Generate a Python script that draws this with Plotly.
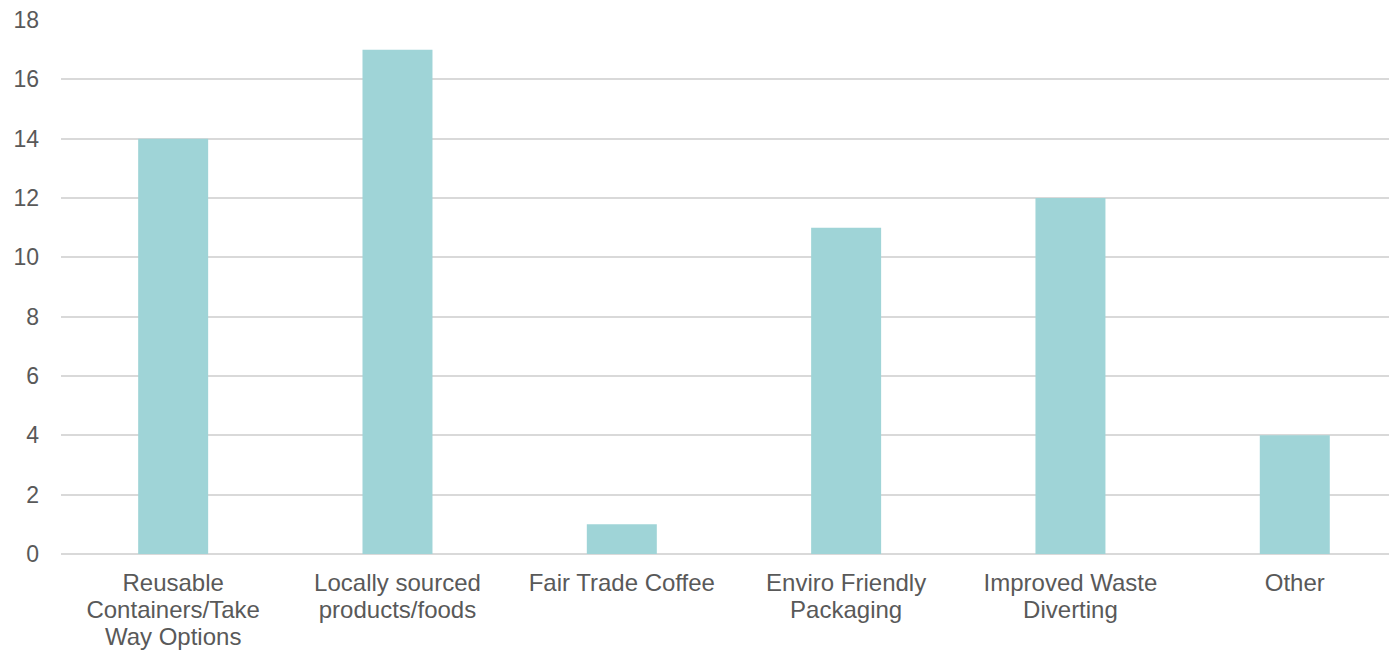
import plotly.graph_objects as go

categories = [
    "Reusable<br>Containers/Take<br>Way Options",
    "Locally sourced<br>products/foods",
    "Fair Trade Coffee",
    "Enviro Friendly<br>Packaging",
    "Improved Waste<br>Diverting",
    "Other",
]
counts = [14, 17, 1, 11, 12, 4]
y_ticks = [0, 2, 4, 6, 8, 10, 12, 14, 16, 18]

# Category labels are drawn a bit larger than the base tick font, which keeps
# the wrapped lines tightly spaced.
tick_text = ['<span style="font-size:24px">' + c + "</span>" for c in categories]

fig = go.Figure(
    go.Bar(
        x=list(range(len(categories))),
        y=counts,
        marker=dict(color="#9FD4D7", line=dict(width=0)),
    )
)

fig.update_layout(
    width=1389,
    height=650,
    margin=dict(l=61, r=0, t=20, b=96),
    paper_bgcolor="white",
    plot_bgcolor="white",
    bargap=0.688,
    showlegend=False,
    font=dict(family="Liberation Sans, Arial, sans-serif", size=23, color="#595959"),
)

fig.update_xaxes(
    range=[-0.5, 5.42],
    automargin=False,
    tickvals=list(range(len(categories))),
    ticktext=tick_text,
    showgrid=False,
    showline=False,
    zeroline=False,
    ticks="",
    ticklabelstandoff=15,
    tickfont=dict(size=20.8, color="#595959"),
)

fig.update_yaxes(
    range=[0, 18],
    automargin=False,
    tickvals=y_ticks,
    showgrid=True,
    gridcolor="#D9D9D9",
    gridwidth=2,
    zeroline=True,
    zerolinecolor="#D9D9D9",
    zerolinewidth=2,
    showline=False,
    ticks="",
    ticklabelstandoff=21,
    tickfont=dict(size=23, color="#595959"),
)

fig.write_html("out.html")
